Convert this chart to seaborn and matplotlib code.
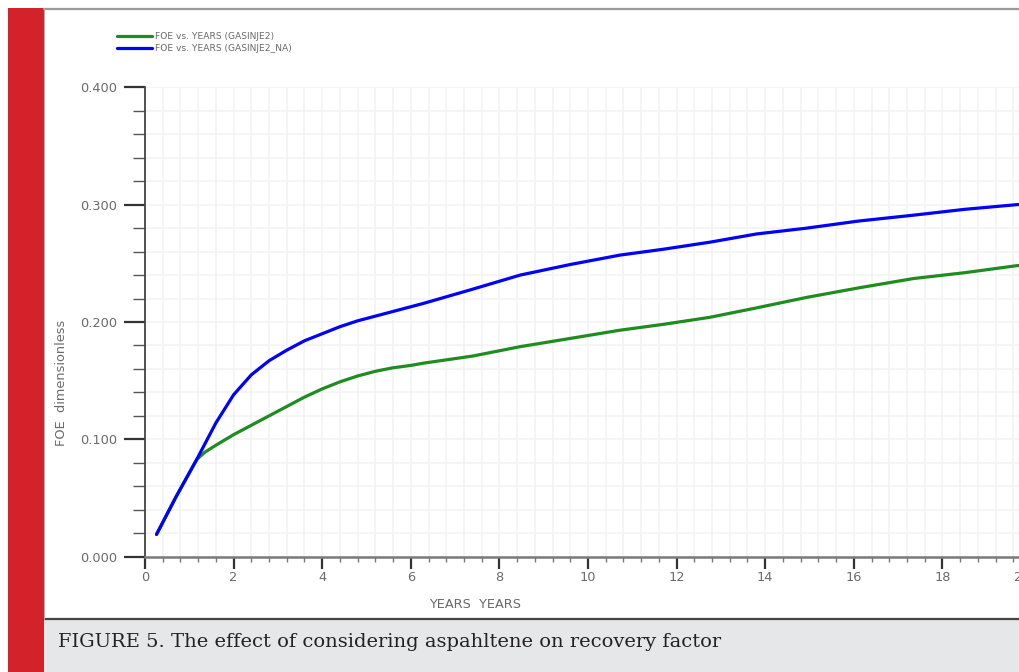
import matplotlib
matplotlib.use("Agg")
import matplotlib.pyplot as plt
from matplotlib.patches import Rectangle
from matplotlib.lines import Line2D
from matplotlib.ticker import MultipleLocator, FixedLocator
import seaborn as sns
import pandas as pd

# ---- data ----
years = [0.26, 0.7, 1.17, 1.35, 1.6, 2.0, 2.4, 2.8, 3.2, 3.6, 4.0, 4.4, 4.8, 5.2,
         5.6, 6.0, 6.3, 7.4, 8.47, 9.6, 10.72, 11.7, 12.75, 13.8, 14.94, 16.1,
         17.34, 18.5, 19.68, 20.0]
foe_gasinje2 = [0.019, 0.051, 0.083, 0.089, 0.095, 0.104, 0.112, 0.120, 0.128, 0.136,
                0.143, 0.149, 0.154, 0.158, 0.161, 0.163, 0.165, 0.171, 0.179, 0.186,
                0.193, 0.198, 0.204, 0.212, 0.221, 0.229, 0.237, 0.242, 0.248, 0.249]
foe_gasinje2_na = [0.019, 0.051, 0.083, 0.096, 0.114, 0.138, 0.155, 0.167, 0.176, 0.184,
                   0.190, 0.196, 0.201, 0.205, 0.209, 0.213, 0.216, 0.228, 0.240, 0.249,
                   0.257, 0.262, 0.268, 0.275, 0.280, 0.286, 0.291, 0.296, 0.300, 0.301]
series_names = ["FOE vs. YEARS (GASINJE2)", "FOE vs. YEARS (GASINJE2_NA)"]
series_colors = ["#1e8c1e", "#0000ff"]
x_ticks = [0, 2, 4, 6, 8, 10, 12, 14, 16, 18, 20]
y_ticks = [0.0, 0.1, 0.2, 0.3, 0.4]
y_tick_labels = ["0.000", "0.100", "0.200", "0.300", "0.400"]
caption = "FIGURE 5. The effect of considering aspahltene on recovery factor"

df = pd.concat([
    pd.DataFrame({"YEARS": years, "FOE": foe_gasinje2, "case": series_names[0]}),
    pd.DataFrame({"YEARS": years, "FOE": foe_gasinje2_na, "case": series_names[1]}),
])

sns.set_theme(style="white")
plt.rcParams["font.family"] = ["DejaVu Sans"]

W, H = 1020, 672
fig = plt.figure(figsize=(W / 100, H / 100), dpi=100)
fig.patch.set_facecolor("white")

def fx(px):
    return px / W

def fy(py):
    return 1 - py / H

# ---- page decoration ----
fig.add_artist(Rectangle((fx(8), 0), fx(36), fy(8), transform=fig.transFigure,
                         facecolor="#d2232a", edgecolor="none", zorder=0))
fig.add_artist(Rectangle((fx(44), 0), 1 - fx(44), fy(619), transform=fig.transFigure,
                         facecolor="#e6e7e9", edgecolor="none", zorder=0))
fig.add_artist(Line2D([fx(44), 1], [fy(619), fy(619)], transform=fig.transFigure,
                      color="#444444", lw=1.6))
fig.add_artist(Line2D([fx(44), 1], [fy(8.5), fy(8.5)], transform=fig.transFigure,
                      color="#9a9a9a", lw=1.6))
fig.add_artist(Line2D([fx(44.5), fx(44.5)], [fy(8), fy(619)], transform=fig.transFigure,
                      color="#b0b0b0", lw=0.8))
fig.text(fx(58), fy(642), caption, family="DejaVu Serif", fontsize=14.0,
         color="#222222", va="center", ha="left")

# ---- axes ----
ax = fig.add_axes([fx(145), fy(556.7), fx(1031 - 145), (556.7 - 87.3) / H])
ax.set_facecolor("none")
sns.lineplot(data=df, x="YEARS", y="FOE", hue="case", palette=series_colors,
             linewidth=2.3, ax=ax, legend=False, sort=False, zorder=3)

ax.set_xlim(0, 20)
ax.set_ylim(0, 0.4)
ax.xaxis.set_major_locator(FixedLocator(x_ticks))
ax.xaxis.set_minor_locator(MultipleLocator(0.4))
ax.yaxis.set_major_locator(FixedLocator(y_ticks))
ax.yaxis.set_minor_locator(MultipleLocator(0.02))
ax.set_yticklabels(y_tick_labels)
ax.set_xticklabels([str(t) for t in x_ticks])
ax.grid(which="both", color="#f2f2f2", lw=1.1, zorder=0)
ax.set_axisbelow(True)
for s in ["top", "right"]:
    ax.spines[s].set_visible(False)
ax.spines["left"].set_color("#444444")
ax.spines["left"].set_linewidth(1.3)
ax.spines["bottom"].set_color("#7a7a7a")
ax.spines["bottom"].set_linewidth(1.8)

ax.tick_params(axis="y", which="major", direction="out", length=15, width=1.6,
               color="#333333", labelsize=9.3, labelcolor="#6a6a6a", pad=5, left=True)
ax.tick_params(axis="y", which="minor", direction="out", length=8.6, width=1.0,
               color="#555555", left=True)
ax.tick_params(axis="x", which="major", direction="out", length=8.6, width=1.6,
               color="#333333", labelsize=9.3, labelcolor="#6a6a6a", pad=2, bottom=True)
ax.tick_params(axis="x", which="minor", direction="out", length=3.6, width=1.0,
               color="#777777", bottom=True)
ax.set_xlabel("")
ax.set_ylabel("")
ax.get_xticklabels()[-1].set_ha("right")

fig.text(fx(62), fy(383), "FOE  dimensionless", rotation=90, fontsize=9.3,
         color="#6a6a6a", ha="center", va="center")
fig.text(fx(475), fy(604), "YEARS  YEARS", fontsize=9.3, color="#6a6a6a",
         ha="center", va="center")

# ---- legend ----
handles = [Line2D([], [], color=c, lw=2.3) for c in series_colors]
fig.legend(handles, series_names, loc="upper left",
           bbox_to_anchor=(fx(117), fy(32)), frameon=False, fontsize=6.6,
           labelcolor="#6a6a6a", handlelength=3.8, handletextpad=0.3,
           labelspacing=0.35, borderpad=0, borderaxespad=0)

fig.savefig("out.png", dpi=100)
